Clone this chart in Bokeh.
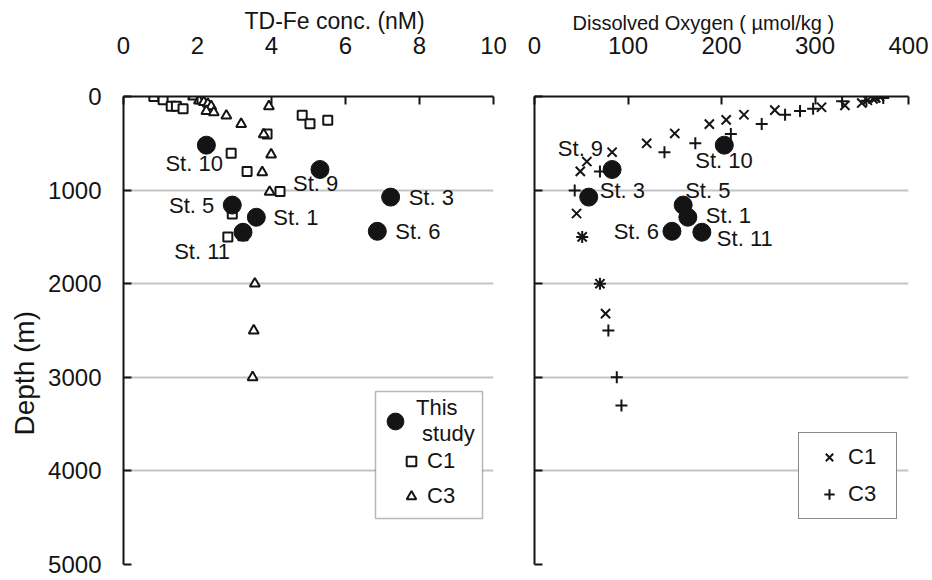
from bokeh.plotting import figure
from bokeh.layouts import row
from bokeh.models import (ColumnDataSource, Range1d, FixedTicker, Legend, LegendItem,
                          Title, BoxAnnotation)
from bokeh.core.properties import value
from bokeh.embed import file_html
from bokeh.resources import INLINE

FONT = "Liberation Sans"
INK = "#141414"

# ---------------- data ----------------
stations = ["St. 1", "St. 3", "St. 5", "St. 6", "St. 9", "St. 10", "St. 11"]
station_depth = [1290, 1075, 1160, 1440, 780, 520, 1450]
station_fe = [3.59, 7.22, 2.94, 6.86, 5.31, 2.24, 3.23]
station_do = [164, 58, 159, 147, 83, 203, 179]

c1_fe_depth = [0, 35, 105, 105, 130, 200, 290, 255, 400, 605, 800, 1015, 1255, 1500]
c1_fe = [0.82, 1.07, 1.29, 1.43, 1.61, 4.83, 5.04, 5.52, 3.88, 2.91, 3.34, 4.23, 2.94, 2.82]

c3_fe_depth = [0, 45, 60, 80, 105, 155, 170, 205, 295, 105, 405, 620, 810, 1020, 1505,
               2000, 2500, 3000]
c3_fe = [1.88, 2.04, 2.17, 2.28, 2.37, 2.24, 2.44, 2.78, 3.18, 3.93, 3.79, 3.99, 3.75,
         3.95, 3.23, 3.55, 3.52, 3.49]

c1_do_depth = [0, 15, 25, 40, 70, 95, 115, 145, 195, 250, 295, 395, 500, 595, 695, 800,
               1250, 1500, 2000, 2320]
c1_do = [369, 365, 362, 356, 350, 332, 307, 257, 224, 205, 187, 150, 120, 83, 56, 49,
         45, 51, 70, 76]

c3_do_depth = [0, 15, 45, 50, 130, 155, 195, 295, 400, 500, 595, 800, 1005, 1500, 2000,
               2500, 3000, 3300]
c3_do = [368, 373, 355, 329, 298, 284, 268, 243, 210, 172, 139, 70, 43, 51, 70, 79, 88, 93]

fe_ticks = [0, 2, 4, 6, 8, 10]
do_ticks = [0, 100, 200, 300, 400]
depth_ticks = [0, 1000, 2000, 3000, 4000, 5000]

# label placement (screen-pixel offsets from each station point)
fe_label_dx = [17, 18, -18, 18, -27, -41, -13]
fe_label_dy = [0, 0, 0, 0, 14, 18, 19]
fe_label_align = ["left", "left", "right", "left", "left", "left", "right"]
do_label_dx = [18, 11, 2, -13, -9, -29, 15]
do_label_dy = [-2, -7, -15, 0, -21, 15, 6]
do_label_align = ["left", "left", "left", "right", "right", "left", "left"]


def make_fig(x_end, xticks, fw, bl, br, show_ylabels):
    p = figure(frame_width=fw, frame_height=468,
               x_range=Range1d(0, x_end), y_range=Range1d(5000, 0),
               x_axis_location="above", output_backend="svg", toolbar_location=None,
               title=None, min_border_left=bl, min_border_right=br,
               min_border_top=96, min_border_bottom=14)
    p.outline_line_color = None
    p.background_fill_color = "white"
    p.border_fill_color = "white"
    p.xgrid.visible = False
    p.ygrid.ticker = FixedTicker(ticks=[1000, 2000, 3000, 4000, 5000])
    p.ygrid.grid_line_color = "#c4c4c4"
    p.ygrid.grid_line_width = 2
    p.xaxis.ticker = FixedTicker(ticks=xticks)
    p.yaxis.ticker = FixedTicker(ticks=depth_ticks)
    for ax in (p.xaxis[0], p.yaxis[0]):
        ax.axis_line_color = INK
        ax.axis_line_width = 2
        ax.major_tick_line_color = INK
        ax.major_tick_line_width = 2
        ax.major_tick_in = 8
        ax.major_tick_out = 0
        ax.minor_tick_in = 0
        ax.minor_tick_out = 0
        ax.major_label_text_font = FONT
        ax.major_label_text_font_size = "24px"
        ax.major_label_text_color = INK
    p.xaxis.major_label_standoff = 43
    p.yaxis.major_label_standoff = 22
    if not show_ylabels:
        p.yaxis.major_label_overrides = {t: "" for t in depth_ticks}
        p.yaxis.major_label_standoff = 0
    return p


# ---------------- left panel: TD-Fe ----------------
p1 = make_fig(10, fe_ticks, 370, 123, 20, True)
p1.add_layout(Title(text="TD-Fe conc. (nM)", align="left", offset=121, standoff=0,
                    text_font=FONT, text_font_size="23px", text_font_style="normal",
                    text_color=INK), "above")
p1.add_layout(Title(text="Depth (m)", align="left", offset=129, standoff=12,
                    text_font=FONT, text_font_size="28px", text_font_style="normal",
                    text_color=INK), "left")

src_fe_st = ColumnDataSource(dict(x=station_fe, y=station_depth, name=stations,
                                  dx=fe_label_dx, dy=fe_label_dy, al=fe_label_align))
r_c1 = p1.scatter(c1_fe, c1_fe_depth, marker="square", size=9, fill_color="white",
                  line_color=INK, line_width=2)
r_c3 = p1.scatter(c3_fe, c3_fe_depth, marker="triangle", size=10, fill_color="white",
                  line_color=INK, line_width=2)
r_st1 = p1.scatter("x", "y", source=src_fe_st, marker="circle", size=18,
                   fill_color=INK, line_color=INK)
p1.text("x", "y", text="name", source=src_fe_st, x_offset="dx", y_offset="dy",
        text_align="al", text_baseline="middle", text_font=value(FONT),
        text_font_size="22px", text_color=INK)

p1.add_layout(BoxAnnotation(left=252, right=359, bottom=46, top=173,
                            left_units="screen", right_units="screen",
                            bottom_units="screen", top_units="screen",
                            fill_color="white", fill_alpha=1,
                            line_color=INK, line_width=1.5))
legA = Legend(items=[LegendItem(label="This\n study", renderers=[r_st1])],
              location=(251, 117), glyph_width=42, glyph_height=42, padding=0, margin=0,
              label_standoff=0, border_line_color=None, background_fill_alpha=0,
              label_text_font=FONT, label_text_font_size="22px", label_text_color=INK)
legB = Legend(items=[LegendItem(label="C1", renderers=[r_c1]),
                     LegendItem(label="C3", renderers=[r_c3])],
              location=(276, 55), glyph_width=24, glyph_height=24, padding=0, margin=0,
              spacing=9, label_standoff=4, border_line_color=None,
              background_fill_alpha=0, label_text_font=FONT,
              label_text_font_size="22px", label_text_color=INK)
p1.add_layout(legA)
p1.add_layout(legB)

# ---------------- right panel: dissolved oxygen ----------------
p2 = make_fig(400, do_ticks, 374, 21, 24, False)
p2.add_layout(Title(text="Dissolved Oxygen ( \u00b5mol/kg )", align="left", offset=38,
                    standoff=0, text_font=FONT, text_font_size="20px",
                    text_font_style="normal", text_color=INK), "above")

src_do_st = ColumnDataSource(dict(x=station_do, y=station_depth, name=stations,
                                  dx=do_label_dx, dy=do_label_dy, al=do_label_align))
r_x = p2.scatter(c1_do, c1_do_depth, marker="x", size=13, line_color=INK, line_width=2)
r_p = p2.scatter(c3_do, c3_do_depth, marker="cross", size=12, line_color=INK,
                 line_width=2)
p2.scatter("x", "y", source=src_do_st, marker="circle", size=18, fill_color=INK,
           line_color=INK)
p2.text("x", "y", text="name", source=src_do_st, x_offset="dx", y_offset="dy",
        text_align="al", text_baseline="middle", text_font=value(FONT),
        text_font_size="22px", text_color=INK)

legC = Legend(items=[LegendItem(label="C1", renderers=[r_x]),
                     LegendItem(label="C3", renderers=[r_p])],
              location=(264, 45), glyph_width=38, glyph_height=26, padding=11, margin=0,
              spacing=11, label_standoff=0, label_width=37,
              border_line_color=INK, border_line_width=1.5,
              background_fill_color="white", background_fill_alpha=1,
              label_text_font=FONT, label_text_font_size="22px", label_text_color=INK)
p2.add_layout(legC)

layout = row(p1, p2, spacing=0)
open("out.html", "w").write(file_html(layout, INLINE))
